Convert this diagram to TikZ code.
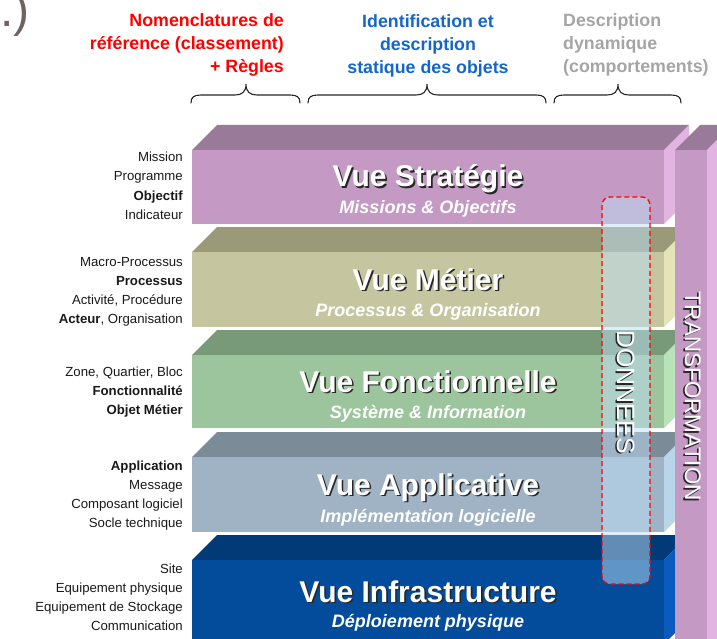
\documentclass[tikz,border=0pt]{standalone}
\usepackage{fontspec}
\setmainfont{Liberation Sans}
\usetikzlibrary{calc}
\definecolor{strF}{HTML}{C49AC4}\definecolor{strT}{HTML}{9A7A99}\definecolor{strS}{HTML}{E2B4E2}
\definecolor{metF}{HTML}{C5C6A0}\definecolor{metT}{HTML}{9A9A78}\definecolor{metS}{HTML}{E4E4B8}
\definecolor{fonF}{HTML}{9DC59D}\definecolor{fonT}{HTML}{789A78}\definecolor{fonS}{HTML}{B8E3B8}
\definecolor{appF}{HTML}{9FB3C5}\definecolor{appT}{HTML}{7B8B97}\definecolor{appS}{HTML}{B9D5EA}
\definecolor{infF}{HTML}{034C9B}\definecolor{infT}{HTML}{023A78}\definecolor{infS}{HTML}{0A5BBE}
\definecolor{donF}{RGB}{190,222,245}
\definecolor{hdRed}{RGB}{255,0,0}
\definecolor{hdBlue}{RGB}{20,102,204}
\definecolor{hdGray}{RGB}{165,165,165}
\definecolor{parenCol}{RGB}{112,98,98}
\newcommand{\drawslab}[5]{%
  \fill[#4] (192,#1+25) -- (217,#1) -- (689,#1) -- (664,#1+25) -- cycle;
  \fill[#5] (664,#1+25) -- (689,#1) -- (689,#2-25) -- (664,#2) -- cycle;
  \fill[#3] (192,#1+25) rectangle (664,#2);
}
\newcommand{\upbrace}[3]{%
  \draw[bracestyle] (#1,103) .. controls (#1,97) and (#1+3,95) .. (#1+10,95)
    -- (#2-11,95) .. controls (#2-4,95) and (#2,92) .. (#2,84)
    .. controls (#2,92) and (#2+4,95) .. (#2+11,95)
    -- (#3-10,95) .. controls (#3-3,95) and (#3,97) .. (#3,103);
}
\newcommand{\shadowed}[1]{\rlap{\raisebox{-1.6pt}{\kern1.6pt\textcolor{black!85}{#1}}}#1}
\begin{document}
\begin{tikzpicture}[x=1pt,y=-1pt,
  bracestyle/.style={line width=1.1pt, draw=black!85, line cap=round},
  hdr/.style={font=\bfseries\fontsize{17.8}{20}\selectfont, inner sep=0},
  lbl/.style={font=\fontsize{13.2}{15}\selectfont, anchor=base east, inner sep=0, text=black!90},
  ttl/.style={font=\bfseries\fontsize{30}{32}\selectfont, text=white, anchor=base, inner sep=0},
  sub/.style={font=\bfseries\itshape\fontsize{18}{20}\selectfont, text=white, anchor=base, inner sep=0},
  vert/.style={rotate=-90, text=white, inner sep=0}]
\useasboundingbox (0,0) rectangle (717,639);
\clip (0,0) rectangle (717,639);

% top-left fragment
\node[font=\fontsize{48}{50}\selectfont, text=parenCol, anchor=base west, inner sep=0] (paren) at (0,27) {.)};

% headers
\node[hdr, text=hdRed, anchor=base east] (r1) at (284,27) {Nomenclatures de};
\node[hdr, text=hdRed, anchor=base east] (r2) at (284,50) {référence (classement)};
\node[hdr, text=hdRed, anchor=base east] (r3) at (284,72.5) {+ Règles};
\node[hdr, text=hdBlue, anchor=base] (b1) at (428,28) {Identification et};
\node[hdr, text=hdBlue, anchor=base] (b2) at (428,51) {description};
\node[hdr, text=hdBlue, anchor=base] (b3) at (428,73.5) {statique des objets};
\node[hdr, text=hdGray, anchor=base west] (g1) at (563,27) {Description};
\node[hdr, text=hdGray, anchor=base west] (g2) at (563,50) {dynamique};
\node[hdr, text=hdGray, anchor=base west] (g3) at (563,72.5) {(comportements)};

% braces
\upbrace{191}{246}{300}
\upbrace{308}{427}{546}
\upbrace{554}{618}{681}

% slabs
\drawslab{125}{224}{strF}{strT}{strS}
\drawslab{227}{327}{metF}{metT}{metS}
\drawslab{330}{428}{fonF}{fonT}{fonS}
\drawslab{432}{532}{appF}{appT}{appS}
\drawslab{535}{644}{infF}{infT}{infS}

% transformation column
\fill[strT] (675,150) -- (700,125) -- (732,125) -- (707,150) -- cycle;
\fill[strS] (707,150) -- (732,125) -- (732,650) -- (707,650) -- cycle;
\fill[strF] (675,150) rectangle (707,650);

% titles
\node[ttl] (t1) at (428,187) {\shadowed{Vue Stratégie}};
\node[sub] (s1) at (428,213) {Missions \& Objectifs};
\node[ttl] (t2) at (428,290) {\shadowed{Vue Métier}};
\node[sub] (s2) at (428,316.5) {Processus \& Organisation};
\node[ttl] (t3) at (428,392) {\shadowed{Vue Fonctionnelle}};
\node[sub] (s3) at (428,418.5) {Système \& Information};
\node[ttl] (t4) at (428,495) {\shadowed{Vue Applicative}};
\node[sub] (s4) at (428,522) {Implémentation logicielle};
\node[ttl] (t5) at (428,602) {\shadowed{Vue Infrastructure}};
\node[sub] (s5) at (428,627.5) {Déploiement physique};

% DONNEES box
\draw[draw=red, dash pattern=on 5pt off 3pt, line width=1.3pt, rounded corners=8pt,
      fill=donF, fill opacity=0.5] (602,197) rectangle (650,584);
\node[vert, font=\fontsize{25}{27}\selectfont] (don) at (625,392) {\shadowed{DONNEES}};
\node[vert, font=\fontsize{22.5}{24}\selectfont] (tr) at (692,396) {\shadowed{TRANSFORMATION}};

% left labels
\foreach \t [count=\i] in {Mission, Programme, \textbf{Objectif}, Indicateur}
  \node[lbl] (la\i) at (183,161.7+19.2*\i-19.2) {\t};
\foreach \t [count=\i] in {Macro-Processus, \textbf{Processus}, {Activité, Procédure}, {\textbf{Acteur}, Organisation}}
  \node[lbl] (lb\i) at (183,266+19.2*\i-19.2) {\t};
\foreach \t [count=\i] in {{Zone, Quartier, Bloc}, \textbf{Fonctionnalité}, \textbf{Objet Métier}}
  \node[lbl] (lc\i) at (183,376.5+19.2*\i-19.2) {\t};
\foreach \t [count=\i] in {\textbf{Application}, Message, Composant logiciel, Socle technique}
  \node[lbl] (ld\i) at (183,470+19.2*\i-19.2) {\t};
\foreach \t [count=\i] in {Site, Equipement physique, Equipement de Stockage, Communication}
  \node[lbl] (le\i) at (183,573+19.2*\i-19.2) {\t};
\end{tikzpicture}
\end{document}
